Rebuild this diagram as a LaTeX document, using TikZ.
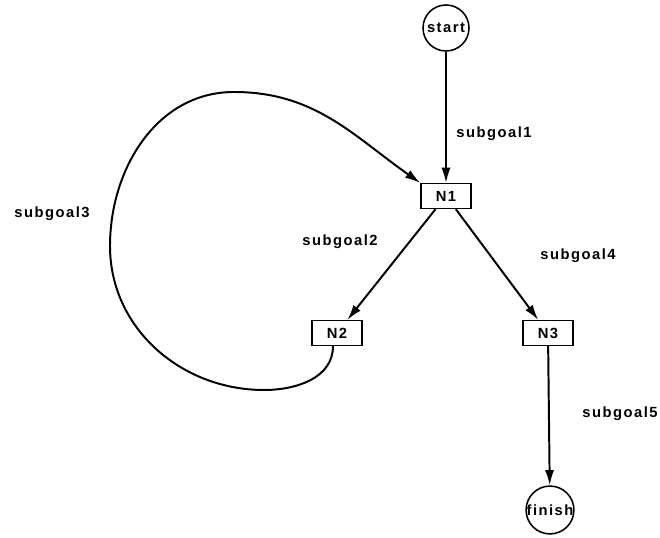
\documentclass[tikz,border=0pt]{standalone}
\usepackage{fontspec}
\newfontfamily\lblfont[LetterSpace=10]{Liberation Sans}
\usepackage{tikz}
\usetikzlibrary{positioning,arrows.meta}
\tikzset{
  state/.style={draw, circle, line width=1.1pt, minimum size=1.15cm, inner sep=0pt},
  goal/.style={draw, rectangle, line width=1.1pt, minimum width=1.25cm, minimum height=0.62cm, inner sep=0pt},
  arr/.style={line width=1.4pt, -{Latex[length=3.8mm,width=2.3mm]}},
}
\begin{document}
\begin{tikzpicture}[font=\lblfont\bfseries\fontsize{10.5}{12}\selectfont]
         \useasboundingbox (0,0) rectangle (16.5,13.45);
         \node[state] (start) at (11.15,12.75) {start};
         \node[goal] (N1) at (11.15,8.55) {N1};
         \node[goal] (N2) at (8.425,5.125) {N2};
         \node[goal] (N3) at (13.7,5.125) {N3};
         \node[state] (finish) at (13.75,0.7) {finish};

         \draw[arr] (start) -- (N1);
         \draw[arr] (N1) -- (N2);
         \draw[arr] (N1) -- (N3);
         \draw[arr] (N3) -- (finish);
         % loop back from N2 up to N1
         \draw[arr] ([xshift=-1mm]N2.south) to[out=-90,in=0] (6.6,3.7) to[out=180,in=-90] (2.75,7.3)
             to[out=90,in=180] (5.85,11.15) to[out=0,in=145] (N1.north west);

         \node (sg1) at (12.35,10.1) {subgoal1};
         \node (sg2) at (8.5,7.4) {subgoal2};
         \node (sg3) at (1.3,8.1) {subgoal3};
         \node (sg4) at (14.45,7.05) {subgoal4};
         \node (sg5) at (15.5,3.1) {subgoal5};
    \end{tikzpicture}
\end{document}
